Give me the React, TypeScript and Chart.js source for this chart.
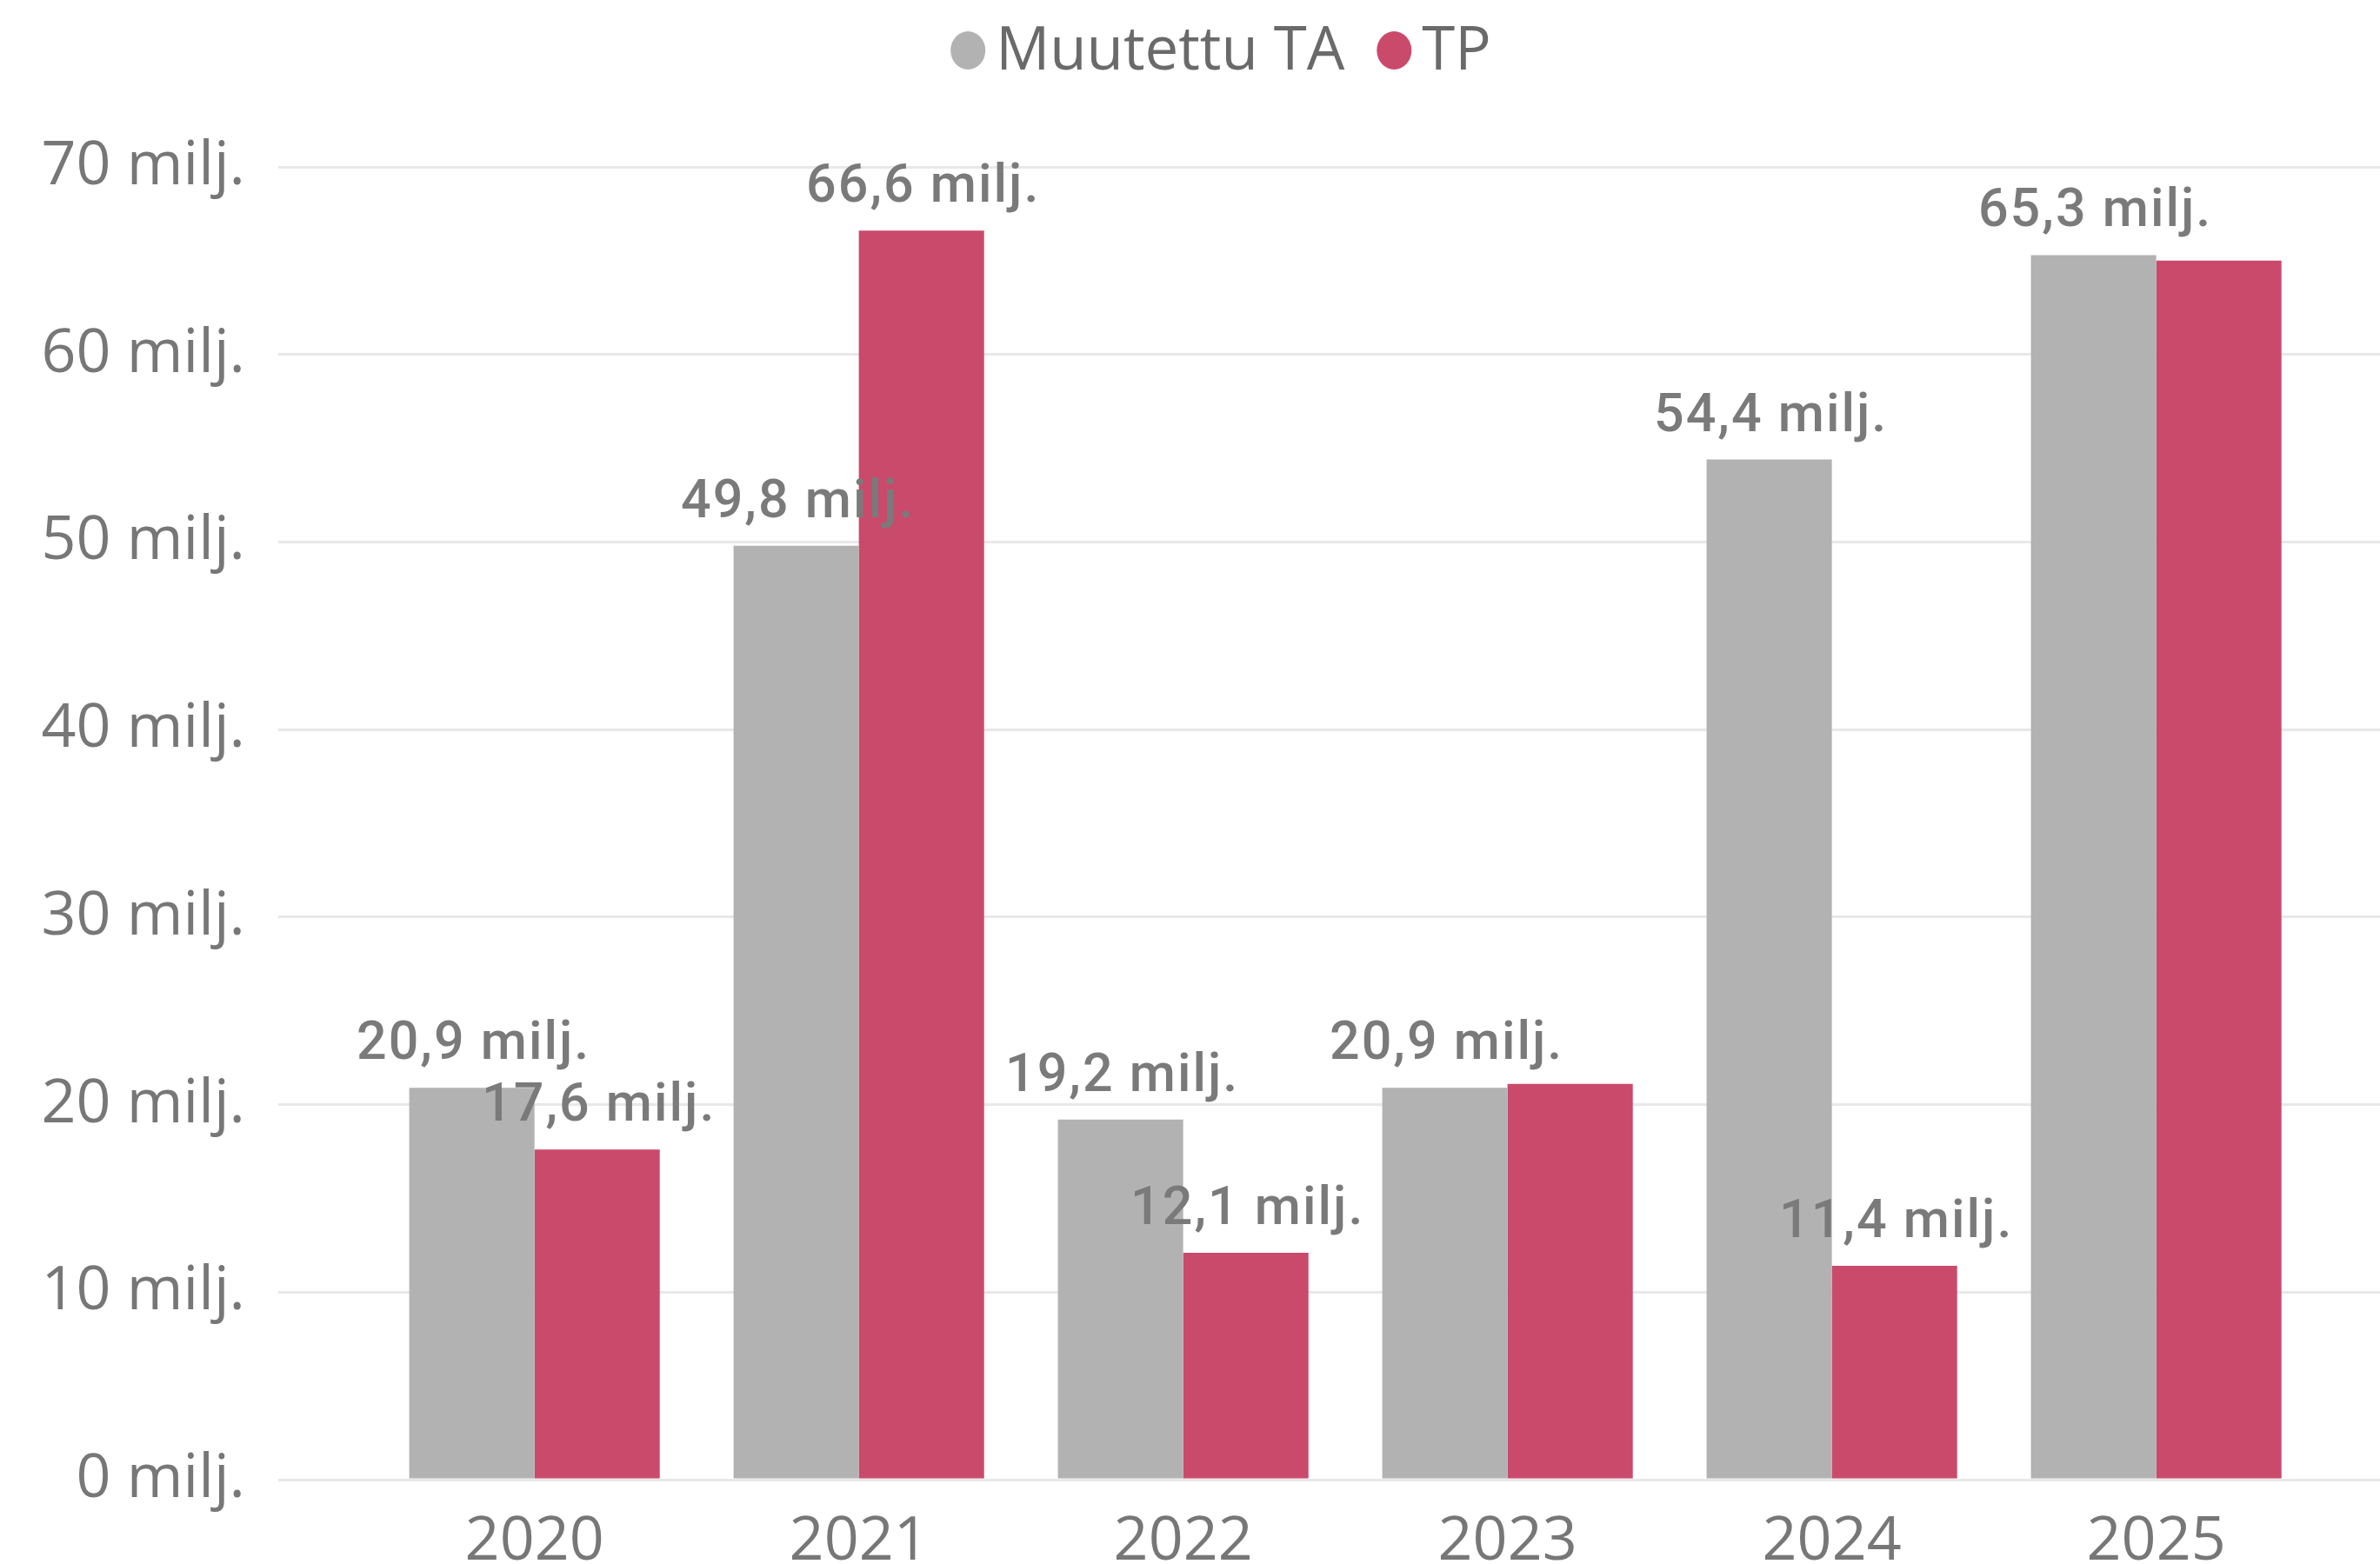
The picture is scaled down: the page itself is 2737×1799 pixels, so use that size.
import React, { useEffect, useRef } from "react";
import { Chart, registerables } from "chart.js";

Chart.register(...registerables);

const years = ["2020", "2021", "2022", "2023", "2024", "2025"];
const seriesNames = ["Muutettu TA", "TP"];
const taValues = [20.9, 49.8, 19.2, 20.9, 54.4, 65.3];
const tpValues = [17.6, 66.6, 12.1, 21.1, 11.4, 65.0];
const taShowLabel = [true, true, true, true, true, true];
const tpShowLabel = [true, true, true, false, true, false];
const yTicks = [0, 10, 20, 30, 40, 50, 60, 70];

const GRAY = "#B2B2B2";
const RED = "#CA4A6C";
const TEXT = "#777777";

const fmt = (v: number) => v.toFixed(1).replace(".", ",") + " milj.";

const dataLabelPlugin = {
  id: "dataLabels",
  afterDatasetsDraw(chart: any) {
    const ctx = chart.ctx;
    const shows = [taShowLabel, tpShowLabel];
    ctx.save();
    ctx.font = '500 61px Roboto';
    try { (ctx as any).letterSpacing = "2px"; } catch (e) {}
    ctx.fillStyle = "#7A7A7A";
    ctx.textAlign = "center";
    ctx.textBaseline = "alphabetic";
    chart.data.datasets.forEach((ds: any, i: number) => {
      const meta = chart.getDatasetMeta(i);
      meta.data.forEach((el: any, j: number) => {
        if (!shows[i][j]) return;
        const v = ds.data[j].y;
        ctx.fillText(fmt(v), el.x + 2, el.y - 33);
      });
    });
    ctx.restore();
  },
};

const legendPlugin = {
  id: "customLegend",
  afterDraw(chart: any) {
    const ctx = chart.ctx;
    ctx.save();
    ctx.font = '400 69px "Open Sans"';
    ctx.textBaseline = "middle";
    ctx.textAlign = "left";
    const rx = 20, ry = 22, gap = 12, itemGap = 37;
    const items = chart.data.datasets.map((d: any) => ({ label: d.label, color: d.backgroundColor, w: ctx.measureText(d.label).width }));
    let total = 0;
    items.forEach((it: any, i: number) => { total += rx * 2 + gap + it.w + (i < items.length - 1 ? itemGap : 0); });
    let x = 1404 - total / 2;
    const y = 58;
    items.forEach((it: any) => {
      ctx.fillStyle = it.color;
      ctx.beginPath();
      ctx.ellipse(x + rx, y, rx, ry, 0, 0, Math.PI * 2);
      ctx.fill();
      x += rx * 2 + gap;
      ctx.fillStyle = "#6A6A6A";
      ctx.fillText(it.label, x, y + 2);
      x += it.w + itemGap;
    });
    ctx.restore();
  },
};

export default function App() {
  const ref = useRef<HTMLCanvasElement | null>(null);
  useEffect(() => {
    document.body.style.margin = "0";
    const canvas = ref.current!;
    const chart = new Chart(canvas, {
      type: "bar",
      data: {
        datasets: [
          {
            label: seriesNames[0],
            data: years.map((y, i) => ({ x: Number(y), y: taValues[i] })),
            backgroundColor: GRAY,
            categoryPercentage: 0.7725,
            barPercentage: 1,
          },
          {
            label: seriesNames[1],
            data: years.map((y, i) => ({ x: Number(y), y: tpValues[i] })),
            backgroundColor: RED,
            categoryPercentage: 0.7725,
            barPercentage: 1,
          },
        ] as any,
      },
      options: {
        animation: false,
        responsive: false,
        devicePixelRatio: 1,
        layout: { padding: { top: 192, right: 0, bottom: 0, left: 0 } },
        plugins: { legend: { display: false }, tooltip: { enabled: false } },
        scales: {
          x: {
            type: "linear",
            offset: false,
            min: 2019.21,
            max: 2025.69,
            grid: { display: false },
            border: { display: false },
            ticks: {
              stepSize: 1,
              includeBounds: false,
              autoSkip: false,
              maxRotation: 0,
              padding: 22,
              color: TEXT,
              font: { family: "Open Sans", size: 70, weight: "400" },
              callback: (v: any) => {
                const idx = years.indexOf(String(Math.round(Number(v))));
                return idx >= 0 ? years[idx] : "";
              },
            },
            afterFit: (s: any) => { s.height = 97; },
          } as any,
          y: {
            min: yTicks[0],
            max: yTicks[yTicks.length - 1],
            grid: { color: "#E8E8E8", lineWidth: 3, drawTicks: false },
            border: { display: false },
            ticks: {
              stepSize: 10,
              padding: 38,
              color: TEXT,
              font: { family: "Open Sans", size: 70, weight: "400" },
              callback: (v: any) => `${v} milj.`,
            },
            afterFit: (s: any) => { s.width = 320; },
          } as any,
        },
      },
      plugins: [dataLabelPlugin, legendPlugin],
    });
    return () => chart.destroy();
  }, []);
  return (
    <canvas
      ref={ref}
      width={2737}
      height={1799}
      style={{ position: "absolute", left: 0, top: 0, width: 2737, height: 1799 }}
    />
  );
}
